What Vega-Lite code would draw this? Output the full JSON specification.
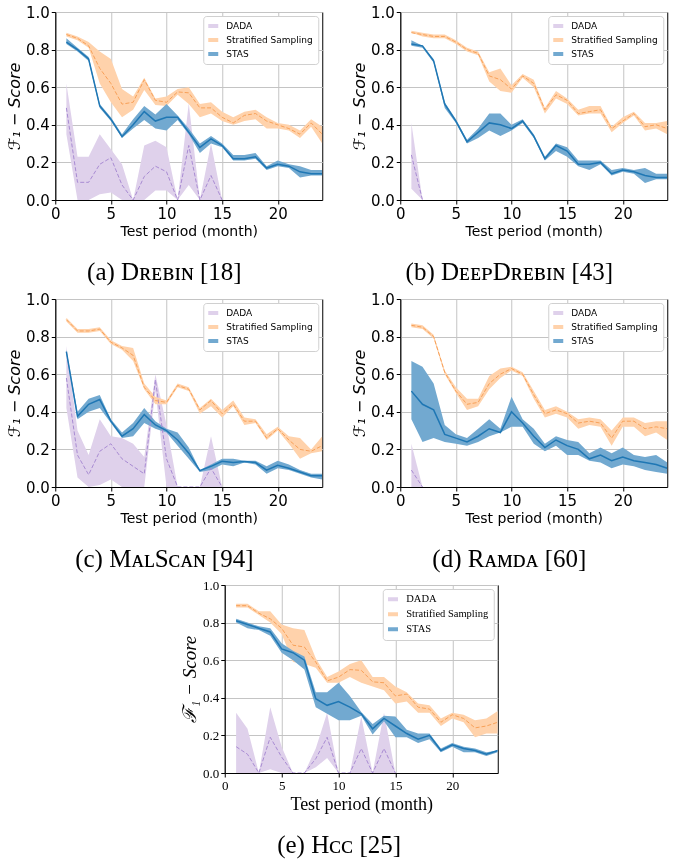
{
  "$schema": "https://vega.github.io/schema/vega-lite/v6.json",
  "padding": {"left": 5, "top": 4, "right": 5, "bottom": 0},
  "background": "white",
  "config": {
    "view": {"stroke": "#000", "strokeWidth": 1},
    "axis": {"labelFont": "DejaVu Sans", "labelFontSize": 15, "titleFont": "DejaVu Sans", "titleFontSize": 14, "titleFontWeight": "normal",
      "labelColor": "#000", "titleColor": "#000", "tickColor": "#000", "domainColor": "#000", "tickSize": 4, "labelOverlap": false, "labelFlush": false,
      "gridColor": "#c4c4c4", "gridWidth": 1, "labelPadding": 2, "titlePadding": 3},
    "axisY": {"titleFontStyle": "italic", "titleFontSize": 16},
    "legend": {"orient": "top-right", "offset": 4, "strokeColor": "#d0d0d0", "fillColor": "#ffffff", "padding": 5, "cornerRadius": 3,
      "labelFont": "DejaVu Sans", "labelFontSize": 9, "labelColor": "#000", "symbolType": "M-1,-0.4H1V0.4H-1Z", "symbolSize": 100,
      "symbolStrokeWidth": 0, "rowPadding": 4, "labelOffset": 8},
    "title": {"font": "Liberation Serif", "fontSize": 25, "fontWeight": "normal", "color": "#000"}
  },
  "data": {"values": [
    {"p":"a","s":"DADA","m":1,"v":0.49,"lo":0.35,"hi":0.62},
    {"p":"a","s":"DADA","m":2,"v":0.094,"lo":0,"hi":0.23},
    {"p":"a","s":"DADA","m":3,"v":0.094,"lo":0,"hi":0.23},
    {"p":"a","s":"DADA","m":4,"v":0.19,"lo":0.03,"hi":0.35},
    {"p":"a","s":"DADA","m":5,"v":0.225,"lo":0.04,"hi":0.27},
    {"p":"a","s":"DADA","m":6,"v":0.08,"lo":0,"hi":0.19},
    {"p":"a","s":"DADA","m":7,"v":0,"lo":0,"hi":0},
    {"p":"a","s":"DADA","m":8,"v":0.125,"lo":0,"hi":0.29},
    {"p":"a","s":"DADA","m":9,"v":0.18,"lo":0.05,"hi":0.315},
    {"p":"a","s":"DADA","m":10,"v":0.15,"lo":0.05,"hi":0.28},
    {"p":"a","s":"DADA","m":11,"v":0,"lo":0,"hi":0},
    {"p":"a","s":"DADA","m":12,"v":0.29,"lo":0.08,"hi":0.515},
    {"p":"a","s":"DADA","m":13,"v":0,"lo":0,"hi":0},
    {"p":"a","s":"DADA","m":14,"v":0.13,"lo":0,"hi":0.3},
    {"p":"a","s":"DADA","m":15,"v":0,"lo":0,"hi":0},
    {"p":"a","s":"Stratified Sampling","m":1,"v":0.88,"lo":0.87,"hi":0.89},
    {"p":"a","s":"Stratified Sampling","m":2,"v":0.86,"lo":0.85,"hi":0.87},
    {"p":"a","s":"Stratified Sampling","m":3,"v":0.82,"lo":0.81,"hi":0.84},
    {"p":"a","s":"Stratified Sampling","m":4,"v":0.7,"lo":0.62,"hi":0.79},
    {"p":"a","s":"Stratified Sampling","m":5,"v":0.62,"lo":0.52,"hi":0.75},
    {"p":"a","s":"Stratified Sampling","m":6,"v":0.51,"lo":0.44,"hi":0.59},
    {"p":"a","s":"Stratified Sampling","m":7,"v":0.52,"lo":0.48,"hi":0.55},
    {"p":"a","s":"Stratified Sampling","m":8,"v":0.64,"lo":0.585,"hi":0.65},
    {"p":"a","s":"Stratified Sampling","m":9,"v":0.53,"lo":0.505,"hi":0.54},
    {"p":"a","s":"Stratified Sampling","m":10,"v":0.52,"lo":0.5,"hi":0.55},
    {"p":"a","s":"Stratified Sampling","m":11,"v":0.575,"lo":0.56,"hi":0.59},
    {"p":"a","s":"Stratified Sampling","m":12,"v":0.57,"lo":0.51,"hi":0.6},
    {"p":"a","s":"Stratified Sampling","m":13,"v":0.49,"lo":0.44,"hi":0.51},
    {"p":"a","s":"Stratified Sampling","m":14,"v":0.49,"lo":0.46,"hi":0.52},
    {"p":"a","s":"Stratified Sampling","m":15,"v":0.44,"lo":0.42,"hi":0.47},
    {"p":"a","s":"Stratified Sampling","m":16,"v":0.41,"lo":0.4,"hi":0.44},
    {"p":"a","s":"Stratified Sampling","m":17,"v":0.45,"lo":0.42,"hi":0.47},
    {"p":"a","s":"Stratified Sampling","m":18,"v":0.46,"lo":0.43,"hi":0.48},
    {"p":"a","s":"Stratified Sampling","m":19,"v":0.42,"lo":0.38,"hi":0.44},
    {"p":"a","s":"Stratified Sampling","m":20,"v":0.4,"lo":0.38,"hi":0.41},
    {"p":"a","s":"Stratified Sampling","m":21,"v":0.38,"lo":0.37,"hi":0.4},
    {"p":"a","s":"Stratified Sampling","m":22,"v":0.35,"lo":0.33,"hi":0.37},
    {"p":"a","s":"Stratified Sampling","m":23,"v":0.41,"lo":0.39,"hi":0.43},
    {"p":"a","s":"Stratified Sampling","m":24,"v":0.35,"lo":0.3,"hi":0.39},
    {"p":"a","s":"STAS","m":1,"v":0.84,"lo":0.83,"hi":0.86},
    {"p":"a","s":"STAS","m":2,"v":0.8,"lo":0.79,"hi":0.81},
    {"p":"a","s":"STAS","m":3,"v":0.75,"lo":0.74,"hi":0.76},
    {"p":"a","s":"STAS","m":4,"v":0.5,"lo":0.49,"hi":0.51},
    {"p":"a","s":"STAS","m":5,"v":0.43,"lo":0.42,"hi":0.44},
    {"p":"a","s":"STAS","m":6,"v":0.337,"lo":0.33,"hi":0.35},
    {"p":"a","s":"STAS","m":7,"v":0.4,"lo":0.38,"hi":0.43},
    {"p":"a","s":"STAS","m":8,"v":0.47,"lo":0.425,"hi":0.5},
    {"p":"a","s":"STAS","m":9,"v":0.42,"lo":0.38,"hi":0.455},
    {"p":"a","s":"STAS","m":10,"v":0.44,"lo":0.37,"hi":0.51},
    {"p":"a","s":"STAS","m":11,"v":0.44,"lo":0.425,"hi":0.45},
    {"p":"a","s":"STAS","m":12,"v":0.36,"lo":0.35,"hi":0.38},
    {"p":"a","s":"STAS","m":13,"v":0.28,"lo":0.25,"hi":0.3},
    {"p":"a","s":"STAS","m":14,"v":0.325,"lo":0.3,"hi":0.34},
    {"p":"a","s":"STAS","m":15,"v":0.29,"lo":0.28,"hi":0.3},
    {"p":"a","s":"STAS","m":16,"v":0.22,"lo":0.21,"hi":0.24},
    {"p":"a","s":"STAS","m":17,"v":0.22,"lo":0.21,"hi":0.24},
    {"p":"a","s":"STAS","m":18,"v":0.23,"lo":0.22,"hi":0.25},
    {"p":"a","s":"STAS","m":19,"v":0.17,"lo":0.16,"hi":0.18},
    {"p":"a","s":"STAS","m":20,"v":0.19,"lo":0.18,"hi":0.21},
    {"p":"a","s":"STAS","m":21,"v":0.18,"lo":0.17,"hi":0.19},
    {"p":"a","s":"STAS","m":22,"v":0.15,"lo":0.12,"hi":0.18},
    {"p":"a","s":"STAS","m":23,"v":0.14,"lo":0.13,"hi":0.16},
    {"p":"a","s":"STAS","m":24,"v":0.14,"lo":0.13,"hi":0.16},

    {"p":"b","s":"DADA","m":1,"v":0.24,"lo":0.06,"hi":0.41},
    {"p":"b","s":"DADA","m":2,"v":0,"lo":0,"hi":0},
    {"p":"b","s":"Stratified Sampling","m":1,"v":0.89,"lo":0.89,"hi":0.9},
    {"p":"b","s":"Stratified Sampling","m":2,"v":0.88,"lo":0.87,"hi":0.89},
    {"p":"b","s":"Stratified Sampling","m":3,"v":0.87,"lo":0.86,"hi":0.88},
    {"p":"b","s":"Stratified Sampling","m":4,"v":0.87,"lo":0.86,"hi":0.88},
    {"p":"b","s":"Stratified Sampling","m":5,"v":0.84,"lo":0.83,"hi":0.85},
    {"p":"b","s":"Stratified Sampling","m":6,"v":0.8,"lo":0.79,"hi":0.81},
    {"p":"b","s":"Stratified Sampling","m":7,"v":0.78,"lo":0.77,"hi":0.79},
    {"p":"b","s":"Stratified Sampling","m":8,"v":0.66,"lo":0.63,"hi":0.68},
    {"p":"b","s":"Stratified Sampling","m":9,"v":0.64,"lo":0.58,"hi":0.7},
    {"p":"b","s":"Stratified Sampling","m":10,"v":0.59,"lo":0.57,"hi":0.61},
    {"p":"b","s":"Stratified Sampling","m":11,"v":0.66,"lo":0.65,"hi":0.67},
    {"p":"b","s":"Stratified Sampling","m":12,"v":0.62,"lo":0.6,"hi":0.64},
    {"p":"b","s":"Stratified Sampling","m":13,"v":0.48,"lo":0.46,"hi":0.49},
    {"p":"b","s":"Stratified Sampling","m":14,"v":0.56,"lo":0.54,"hi":0.58},
    {"p":"b","s":"Stratified Sampling","m":15,"v":0.53,"lo":0.51,"hi":0.54},
    {"p":"b","s":"Stratified Sampling","m":16,"v":0.46,"lo":0.45,"hi":0.48},
    {"p":"b","s":"Stratified Sampling","m":17,"v":0.47,"lo":0.46,"hi":0.5},
    {"p":"b","s":"Stratified Sampling","m":18,"v":0.48,"lo":0.46,"hi":0.5},
    {"p":"b","s":"Stratified Sampling","m":19,"v":0.38,"lo":0.36,"hi":0.39},
    {"p":"b","s":"Stratified Sampling","m":20,"v":0.42,"lo":0.41,"hi":0.44},
    {"p":"b","s":"Stratified Sampling","m":21,"v":0.46,"lo":0.45,"hi":0.47},
    {"p":"b","s":"Stratified Sampling","m":22,"v":0.39,"lo":0.37,"hi":0.41},
    {"p":"b","s":"Stratified Sampling","m":23,"v":0.4,"lo":0.38,"hi":0.41},
    {"p":"b","s":"Stratified Sampling","m":24,"v":0.38,"lo":0.35,"hi":0.42},
    {"p":"b","s":"STAS","m":1,"v":0.83,"lo":0.82,"hi":0.85},
    {"p":"b","s":"STAS","m":2,"v":0.82,"lo":0.81,"hi":0.82},
    {"p":"b","s":"STAS","m":3,"v":0.74,"lo":0.73,"hi":0.75},
    {"p":"b","s":"STAS","m":4,"v":0.51,"lo":0.49,"hi":0.52},
    {"p":"b","s":"STAS","m":5,"v":0.42,"lo":0.41,"hi":0.43},
    {"p":"b","s":"STAS","m":6,"v":0.31,"lo":0.3,"hi":0.32},
    {"p":"b","s":"STAS","m":7,"v":0.36,"lo":0.33,"hi":0.38},
    {"p":"b","s":"STAS","m":8,"v":0.41,"lo":0.37,"hi":0.46},
    {"p":"b","s":"STAS","m":9,"v":0.4,"lo":0.34,"hi":0.46},
    {"p":"b","s":"STAS","m":10,"v":0.38,"lo":0.37,"hi":0.4},
    {"p":"b","s":"STAS","m":11,"v":0.42,"lo":0.41,"hi":0.43},
    {"p":"b","s":"STAS","m":12,"v":0.34,"lo":0.33,"hi":0.35},
    {"p":"b","s":"STAS","m":13,"v":0.22,"lo":0.21,"hi":0.23},
    {"p":"b","s":"STAS","m":14,"v":0.29,"lo":0.26,"hi":0.3},
    {"p":"b","s":"STAS","m":15,"v":0.26,"lo":0.23,"hi":0.28},
    {"p":"b","s":"STAS","m":16,"v":0.19,"lo":0.18,"hi":0.21},
    {"p":"b","s":"STAS","m":17,"v":0.19,"lo":0.16,"hi":0.21},
    {"p":"b","s":"STAS","m":18,"v":0.2,"lo":0.19,"hi":0.21},
    {"p":"b","s":"STAS","m":19,"v":0.14,"lo":0.13,"hi":0.16},
    {"p":"b","s":"STAS","m":20,"v":0.16,"lo":0.15,"hi":0.17},
    {"p":"b","s":"STAS","m":21,"v":0.15,"lo":0.14,"hi":0.16},
    {"p":"b","s":"STAS","m":22,"v":0.13,"lo":0.09,"hi":0.17},
    {"p":"b","s":"STAS","m":23,"v":0.12,"lo":0.11,"hi":0.14},
    {"p":"b","s":"STAS","m":24,"v":0.12,"lo":0.11,"hi":0.14},

    {"p":"c","s":"DADA","m":1,"v":0.58,"lo":0.42,"hi":0.75},
    {"p":"c","s":"DADA","m":2,"v":0.17,"lo":0.05,"hi":0.3},
    {"p":"c","s":"DADA","m":3,"v":0.065,"lo":0,"hi":0.17},
    {"p":"c","s":"DADA","m":4,"v":0.19,"lo":0.01,"hi":0.36},
    {"p":"c","s":"DADA","m":5,"v":0.23,"lo":0.04,"hi":0.27},
    {"p":"c","s":"DADA","m":6,"v":0.15,"lo":0,"hi":0.26},
    {"p":"c","s":"DADA","m":7,"v":0.11,"lo":0,"hi":0.23},
    {"p":"c","s":"DADA","m":8,"v":0.07,"lo":0,"hi":0.16},
    {"p":"c","s":"DADA","m":9,"v":0.57,"lo":0.51,"hi":0.6},
    {"p":"c","s":"DADA","m":10,"v":0.15,"lo":0,"hi":0.33},
    {"p":"c","s":"DADA","m":11,"v":0,"lo":0,"hi":0},
    {"p":"c","s":"DADA","m":12,"v":0,"lo":0,"hi":0},
    {"p":"c","s":"DADA","m":13,"v":0,"lo":0,"hi":0},
    {"p":"c","s":"DADA","m":14,"v":0.1,"lo":0,"hi":0.27},
    {"p":"c","s":"DADA","m":15,"v":0,"lo":0,"hi":0},
    {"p":"c","s":"Stratified Sampling","m":1,"v":0.89,"lo":0.88,"hi":0.9},
    {"p":"c","s":"Stratified Sampling","m":2,"v":0.83,"lo":0.82,"hi":0.84},
    {"p":"c","s":"Stratified Sampling","m":3,"v":0.83,"lo":0.82,"hi":0.84},
    {"p":"c","s":"Stratified Sampling","m":4,"v":0.84,"lo":0.83,"hi":0.85},
    {"p":"c","s":"Stratified Sampling","m":5,"v":0.77,"lo":0.76,"hi":0.78},
    {"p":"c","s":"Stratified Sampling","m":6,"v":0.74,"lo":0.73,"hi":0.75},
    {"p":"c","s":"Stratified Sampling","m":7,"v":0.7,"lo":0.67,"hi":0.74},
    {"p":"c","s":"Stratified Sampling","m":8,"v":0.53,"lo":0.52,"hi":0.55},
    {"p":"c","s":"Stratified Sampling","m":9,"v":0.46,"lo":0.44,"hi":0.48},
    {"p":"c","s":"Stratified Sampling","m":10,"v":0.45,"lo":0.44,"hi":0.46},
    {"p":"c","s":"Stratified Sampling","m":11,"v":0.54,"lo":0.53,"hi":0.55},
    {"p":"c","s":"Stratified Sampling","m":12,"v":0.52,"lo":0.51,"hi":0.53},
    {"p":"c","s":"Stratified Sampling","m":13,"v":0.41,"lo":0.39,"hi":0.42},
    {"p":"c","s":"Stratified Sampling","m":14,"v":0.46,"lo":0.43,"hi":0.47},
    {"p":"c","s":"Stratified Sampling","m":15,"v":0.39,"lo":0.37,"hi":0.41},
    {"p":"c","s":"Stratified Sampling","m":16,"v":0.44,"lo":0.43,"hi":0.46},
    {"p":"c","s":"Stratified Sampling","m":17,"v":0.35,"lo":0.33,"hi":0.37},
    {"p":"c","s":"Stratified Sampling","m":18,"v":0.35,"lo":0.34,"hi":0.36},
    {"p":"c","s":"Stratified Sampling","m":19,"v":0.26,"lo":0.25,"hi":0.28},
    {"p":"c","s":"Stratified Sampling","m":20,"v":0.31,"lo":0.3,"hi":0.32},
    {"p":"c","s":"Stratified Sampling","m":21,"v":0.25,"lo":0.23,"hi":0.27},
    {"p":"c","s":"Stratified Sampling","m":22,"v":0.2,"lo":0.15,"hi":0.26},
    {"p":"c","s":"Stratified Sampling","m":23,"v":0.19,"lo":0.18,"hi":0.2},
    {"p":"c","s":"Stratified Sampling","m":24,"v":0.22,"lo":0.19,"hi":0.27},
    {"p":"c","s":"STAS","m":1,"v":0.72,"lo":0.71,"hi":0.73},
    {"p":"c","s":"STAS","m":2,"v":0.376,"lo":0.36,"hi":0.4},
    {"p":"c","s":"STAS","m":3,"v":0.44,"lo":0.4,"hi":0.47},
    {"p":"c","s":"STAS","m":4,"v":0.465,"lo":0.42,"hi":0.49},
    {"p":"c","s":"STAS","m":5,"v":0.35,"lo":0.34,"hi":0.36},
    {"p":"c","s":"STAS","m":6,"v":0.27,"lo":0.26,"hi":0.29},
    {"p":"c","s":"STAS","m":7,"v":0.31,"lo":0.27,"hi":0.34},
    {"p":"c","s":"STAS","m":8,"v":0.385,"lo":0.34,"hi":0.42},
    {"p":"c","s":"STAS","m":9,"v":0.33,"lo":0.31,"hi":0.35},
    {"p":"c","s":"STAS","m":10,"v":0.3,"lo":0.29,"hi":0.31},
    {"p":"c","s":"STAS","m":11,"v":0.25,"lo":0.22,"hi":0.29},
    {"p":"c","s":"STAS","m":12,"v":0.18,"lo":0.15,"hi":0.21},
    {"p":"c","s":"STAS","m":13,"v":0.087,"lo":0.08,"hi":0.09},
    {"p":"c","s":"STAS","m":14,"v":0.11,"lo":0.09,"hi":0.12},
    {"p":"c","s":"STAS","m":15,"v":0.137,"lo":0.12,"hi":0.15},
    {"p":"c","s":"STAS","m":16,"v":0.13,"lo":0.11,"hi":0.15},
    {"p":"c","s":"STAS","m":17,"v":0.135,"lo":0.13,"hi":0.14},
    {"p":"c","s":"STAS","m":18,"v":0.13,"lo":0.12,"hi":0.14},
    {"p":"c","s":"STAS","m":19,"v":0.09,"lo":0.07,"hi":0.11},
    {"p":"c","s":"STAS","m":20,"v":0.115,"lo":0.1,"hi":0.14},
    {"p":"c","s":"STAS","m":21,"v":0.1,"lo":0.09,"hi":0.12},
    {"p":"c","s":"STAS","m":22,"v":0.08,"lo":0.07,"hi":0.09},
    {"p":"c","s":"STAS","m":23,"v":0.06,"lo":0.05,"hi":0.07},
    {"p":"c","s":"STAS","m":24,"v":0.06,"lo":0.04,"hi":0.07},

    {"p":"d","s":"DADA","m":1,"v":0.09,"lo":0,"hi":0.23},
    {"p":"d","s":"DADA","m":2,"v":0,"lo":0,"hi":0},
    {"p":"d","s":"Stratified Sampling","m":1,"v":0.86,"lo":0.85,"hi":0.87},
    {"p":"d","s":"Stratified Sampling","m":2,"v":0.85,"lo":0.84,"hi":0.86},
    {"p":"d","s":"Stratified Sampling","m":3,"v":0.8,"lo":0.79,"hi":0.81},
    {"p":"d","s":"Stratified Sampling","m":4,"v":0.61,"lo":0.6,"hi":0.62},
    {"p":"d","s":"Stratified Sampling","m":5,"v":0.51,"lo":0.5,"hi":0.53},
    {"p":"d","s":"Stratified Sampling","m":6,"v":0.44,"lo":0.41,"hi":0.47},
    {"p":"d","s":"Stratified Sampling","m":7,"v":0.45,"lo":0.43,"hi":0.47},
    {"p":"d","s":"Stratified Sampling","m":8,"v":0.55,"lo":0.52,"hi":0.59},
    {"p":"d","s":"Stratified Sampling","m":9,"v":0.6,"lo":0.58,"hi":0.63},
    {"p":"d","s":"Stratified Sampling","m":10,"v":0.63,"lo":0.62,"hi":0.64},
    {"p":"d","s":"Stratified Sampling","m":11,"v":0.6,"lo":0.59,"hi":0.61},
    {"p":"d","s":"Stratified Sampling","m":12,"v":0.49,"lo":0.47,"hi":0.51},
    {"p":"d","s":"Stratified Sampling","m":13,"v":0.39,"lo":0.37,"hi":0.41},
    {"p":"d","s":"Stratified Sampling","m":14,"v":0.41,"lo":0.39,"hi":0.43},
    {"p":"d","s":"Stratified Sampling","m":15,"v":0.39,"lo":0.37,"hi":0.4},
    {"p":"d","s":"Stratified Sampling","m":16,"v":0.34,"lo":0.31,"hi":0.36},
    {"p":"d","s":"Stratified Sampling","m":17,"v":0.35,"lo":0.33,"hi":0.37},
    {"p":"d","s":"Stratified Sampling","m":18,"v":0.34,"lo":0.32,"hi":0.36},
    {"p":"d","s":"Stratified Sampling","m":19,"v":0.26,"lo":0.22,"hi":0.3},
    {"p":"d","s":"Stratified Sampling","m":20,"v":0.35,"lo":0.32,"hi":0.37},
    {"p":"d","s":"Stratified Sampling","m":21,"v":0.35,"lo":0.32,"hi":0.37},
    {"p":"d","s":"Stratified Sampling","m":22,"v":0.31,"lo":0.27,"hi":0.34},
    {"p":"d","s":"Stratified Sampling","m":23,"v":0.32,"lo":0.29,"hi":0.35},
    {"p":"d","s":"Stratified Sampling","m":24,"v":0.31,"lo":0.25,"hi":0.35},
    {"p":"d","s":"STAS","m":1,"v":0.51,"lo":0.36,"hi":0.67},
    {"p":"d","s":"STAS","m":2,"v":0.44,"lo":0.24,"hi":0.64},
    {"p":"d","s":"STAS","m":3,"v":0.41,"lo":0.26,"hi":0.55},
    {"p":"d","s":"STAS","m":4,"v":0.28,"lo":0.24,"hi":0.33},
    {"p":"d","s":"STAS","m":5,"v":0.26,"lo":0.23,"hi":0.28},
    {"p":"d","s":"STAS","m":6,"v":0.24,"lo":0.22,"hi":0.26},
    {"p":"d","s":"STAS","m":7,"v":0.27,"lo":0.24,"hi":0.31},
    {"p":"d","s":"STAS","m":8,"v":0.31,"lo":0.27,"hi":0.36},
    {"p":"d","s":"STAS","m":9,"v":0.29,"lo":0.29,"hi":0.31},
    {"p":"d","s":"STAS","m":10,"v":0.4,"lo":0.32,"hi":0.48},
    {"p":"d","s":"STAS","m":11,"v":0.34,"lo":0.32,"hi":0.36},
    {"p":"d","s":"STAS","m":12,"v":0.27,"lo":0.23,"hi":0.31},
    {"p":"d","s":"STAS","m":13,"v":0.21,"lo":0.19,"hi":0.23},
    {"p":"d","s":"STAS","m":14,"v":0.25,"lo":0.22,"hi":0.27},
    {"p":"d","s":"STAS","m":15,"v":0.22,"lo":0.17,"hi":0.25},
    {"p":"d","s":"STAS","m":16,"v":0.2,"lo":0.17,"hi":0.24},
    {"p":"d","s":"STAS","m":17,"v":0.15,"lo":0.14,"hi":0.18},
    {"p":"d","s":"STAS","m":18,"v":0.17,"lo":0.13,"hi":0.21},
    {"p":"d","s":"STAS","m":19,"v":0.14,"lo":0.1,"hi":0.18},
    {"p":"d","s":"STAS","m":20,"v":0.16,"lo":0.12,"hi":0.21},
    {"p":"d","s":"STAS","m":21,"v":0.14,"lo":0.11,"hi":0.17},
    {"p":"d","s":"STAS","m":22,"v":0.13,"lo":0.09,"hi":0.16},
    {"p":"d","s":"STAS","m":23,"v":0.12,"lo":0.08,"hi":0.17},
    {"p":"d","s":"STAS","m":24,"v":0.1,"lo":0.07,"hi":0.13},

    {"p":"e","s":"DADA","m":1,"v":0.14,"lo":0,"hi":0.32},
    {"p":"e","s":"DADA","m":2,"v":0.1,"lo":0,"hi":0.235},
    {"p":"e","s":"DADA","m":3,"v":0,"lo":0,"hi":0},
    {"p":"e","s":"DADA","m":4,"v":0.19,"lo":0.02,"hi":0.35},
    {"p":"e","s":"DADA","m":5,"v":0.085,"lo":0,"hi":0.14},
    {"p":"e","s":"DADA","m":6,"v":0,"lo":0,"hi":0},
    {"p":"e","s":"DADA","m":7,"v":0,"lo":0,"hi":0},
    {"p":"e","s":"DADA","m":8,"v":0.076,"lo":0.03,"hi":0.13},
    {"p":"e","s":"DADA","m":9,"v":0.19,"lo":0.08,"hi":0.32},
    {"p":"e","s":"DADA","m":10,"v":0,"lo":0,"hi":0},
    {"p":"e","s":"DADA","m":11,"v":0,"lo":0,"hi":0},
    {"p":"e","s":"DADA","m":12,"v":0.13,"lo":0,"hi":0.3},
    {"p":"e","s":"DADA","m":13,"v":0,"lo":0,"hi":0},
    {"p":"e","s":"DADA","m":14,"v":0.13,"lo":0,"hi":0.32},
    {"p":"e","s":"DADA","m":15,"v":0,"lo":0,"hi":0},
    {"p":"e","s":"Stratified Sampling","m":1,"v":0.89,"lo":0.88,"hi":0.9},
    {"p":"e","s":"Stratified Sampling","m":2,"v":0.89,"lo":0.88,"hi":0.9},
    {"p":"e","s":"Stratified Sampling","m":3,"v":0.85,"lo":0.84,"hi":0.86},
    {"p":"e","s":"Stratified Sampling","m":4,"v":0.82,"lo":0.8,"hi":0.86},
    {"p":"e","s":"Stratified Sampling","m":5,"v":0.77,"lo":0.74,"hi":0.79},
    {"p":"e","s":"Stratified Sampling","m":6,"v":0.68,"lo":0.59,"hi":0.77},
    {"p":"e","s":"Stratified Sampling","m":7,"v":0.67,"lo":0.58,"hi":0.76},
    {"p":"e","s":"Stratified Sampling","m":8,"v":0.59,"lo":0.56,"hi":0.61},
    {"p":"e","s":"Stratified Sampling","m":9,"v":0.49,"lo":0.48,"hi":0.51},
    {"p":"e","s":"Stratified Sampling","m":10,"v":0.51,"lo":0.48,"hi":0.54},
    {"p":"e","s":"Stratified Sampling","m":11,"v":0.55,"lo":0.51,"hi":0.58},
    {"p":"e","s":"Stratified Sampling","m":12,"v":0.546,"lo":0.48,"hi":0.6},
    {"p":"e","s":"Stratified Sampling","m":13,"v":0.485,"lo":0.46,"hi":0.51},
    {"p":"e","s":"Stratified Sampling","m":14,"v":0.48,"lo":0.44,"hi":0.51},
    {"p":"e","s":"Stratified Sampling","m":15,"v":0.41,"lo":0.37,"hi":0.46},
    {"p":"e","s":"Stratified Sampling","m":16,"v":0.42,"lo":0.38,"hi":0.43},
    {"p":"e","s":"Stratified Sampling","m":17,"v":0.35,"lo":0.32,"hi":0.37},
    {"p":"e","s":"Stratified Sampling","m":18,"v":0.34,"lo":0.32,"hi":0.36},
    {"p":"e","s":"Stratified Sampling","m":19,"v":0.27,"lo":0.25,"hi":0.29},
    {"p":"e","s":"Stratified Sampling","m":20,"v":0.31,"lo":0.29,"hi":0.32},
    {"p":"e","s":"Stratified Sampling","m":21,"v":0.29,"lo":0.27,"hi":0.31},
    {"p":"e","s":"Stratified Sampling","m":22,"v":0.24,"lo":0.19,"hi":0.28},
    {"p":"e","s":"Stratified Sampling","m":23,"v":0.25,"lo":0.21,"hi":0.29},
    {"p":"e","s":"Stratified Sampling","m":24,"v":0.27,"lo":0.21,"hi":0.33},
    {"p":"e","s":"STAS","m":1,"v":0.81,"lo":0.8,"hi":0.82},
    {"p":"e","s":"STAS","m":2,"v":0.79,"lo":0.77,"hi":0.8},
    {"p":"e","s":"STAS","m":3,"v":0.77,"lo":0.76,"hi":0.78},
    {"p":"e","s":"STAS","m":4,"v":0.75,"lo":0.73,"hi":0.77},
    {"p":"e","s":"STAS","m":5,"v":0.66,"lo":0.64,"hi":0.69},
    {"p":"e","s":"STAS","m":6,"v":0.64,"lo":0.6,"hi":0.65},
    {"p":"e","s":"STAS","m":7,"v":0.6,"lo":0.55,"hi":0.62},
    {"p":"e","s":"STAS","m":8,"v":0.395,"lo":0.35,"hi":0.43},
    {"p":"e","s":"STAS","m":9,"v":0.36,"lo":0.315,"hi":0.43},
    {"p":"e","s":"STAS","m":10,"v":0.38,"lo":0.28,"hi":0.48},
    {"p":"e","s":"STAS","m":11,"v":0.35,"lo":0.28,"hi":0.41},
    {"p":"e","s":"STAS","m":12,"v":0.315,"lo":0.305,"hi":0.325},
    {"p":"e","s":"STAS","m":13,"v":0.235,"lo":0.205,"hi":0.26},
    {"p":"e","s":"STAS","m":14,"v":0.29,"lo":0.275,"hi":0.305},
    {"p":"e","s":"STAS","m":15,"v":0.25,"lo":0.19,"hi":0.3},
    {"p":"e","s":"STAS","m":16,"v":0.21,"lo":0.19,"hi":0.23},
    {"p":"e","s":"STAS","m":17,"v":0.18,"lo":0.16,"hi":0.21},
    {"p":"e","s":"STAS","m":18,"v":0.2,"lo":0.18,"hi":0.21},
    {"p":"e","s":"STAS","m":19,"v":0.12,"lo":0.11,"hi":0.13},
    {"p":"e","s":"STAS","m":20,"v":0.15,"lo":0.14,"hi":0.16},
    {"p":"e","s":"STAS","m":21,"v":0.13,"lo":0.11,"hi":0.14},
    {"p":"e","s":"STAS","m":22,"v":0.12,"lo":0.11,"hi":0.13},
    {"p":"e","s":"STAS","m":23,"v":0.1,"lo":0.09,"hi":0.11},
    {"p":"e","s":"STAS","m":24,"v":0.12,"lo":0.11,"hi":0.12}
  ]},
  "resolve": {"scale": {"fill": "independent"}},
  "spacing": 5,
  "center": true,
  "vconcat": [
    {
      "hconcat": [
        {
          "width": 267, "height": 188,
          "title": {"text": "(a) Dʀᴇʙɪɴ [18]", "orient": "bottom", "frame": "bounds", "offset": 22},
          "transform": [{"filter": "datum.p === 'a'"}],
          "encoding": {
            "x": {"field": "m", "type": "quantitative", "scale": {"domain": [0, 24], "nice": false}, "axis": {"values": [0, 5, 10, 15, 20], "title": "Test period (month)"}},
            "y": {"field": "v", "type": "quantitative", "scale": {"domain": [0, 1], "nice": false}, "axis": {"values": [0, 0.2, 0.4, 0.6, 0.8, 1], "format": ".1f", "title": "ℱ₁ − Score"}}
          },
          "layer": [
            {"mark": {"type": "area", "clip": true, "blend": "multiply"},
             "encoding": {
               "y": {"field": "lo", "type": "quantitative", "scale": {"domain": [0, 1], "nice": false}, "axis": {"values": [0, 0.2, 0.4, 0.6, 0.8, 1], "format": ".1f", "title": "ℱ₁ − Score"}},
               "y2": {"field": "hi"},
               "fill": {"field": "s", "type": "nominal", "title": null, "legend": {"orient": "top-right"}, "scale": {"domain": ["DADA", "Stratified Sampling", "STAS"], "range": ["#dfd1eb", "#ffd2ab", "#72a9d0"]}}}},
            {"transform": [{"filter": "datum.s === 'DADA'"}], "mark": {"type": "line", "clip": true, "stroke": "#a88bd2", "strokeDash": [4, 2], "strokeWidth": 1}, "encoding": {}},
            {"transform": [{"filter": "datum.s === 'Stratified Sampling'"}], "mark": {"type": "line", "clip": true, "stroke": "#f7a058", "strokeDash": [4, 2], "strokeWidth": 1}, "encoding": {}},
            {"transform": [{"filter": "datum.s === 'STAS'"}], "mark": {"type": "line", "clip": true, "stroke": "#1f77b4", "strokeWidth": 1.5}, "encoding": {}}
          ]
        },
        {
          "width": 267, "height": 188,
          "title": {"text": "(b) DᴇᴇᴘDʀᴇʙɪɴ [43]", "orient": "bottom", "frame": "bounds", "offset": 22},
          "transform": [{"filter": "datum.p === 'b'"}],
          "encoding": {
            "x": {"field": "m", "type": "quantitative", "scale": {"domain": [0, 24], "nice": false}, "axis": {"values": [0, 5, 10, 15, 20], "title": "Test period (month)"}},
            "y": {"field": "v", "type": "quantitative", "scale": {"domain": [0, 1], "nice": false}, "axis": {"values": [0, 0.2, 0.4, 0.6, 0.8, 1], "format": ".1f", "title": "ℱ₁ − Score"}}
          },
          "layer": [
            {"mark": {"type": "area", "clip": true, "blend": "multiply"},
             "encoding": {
               "y": {"field": "lo", "type": "quantitative", "scale": {"domain": [0, 1], "nice": false}, "axis": {"values": [0, 0.2, 0.4, 0.6, 0.8, 1], "format": ".1f", "title": "ℱ₁ − Score"}},
               "y2": {"field": "hi"},
               "fill": {"field": "s", "type": "nominal", "title": null, "legend": {"orient": "top-right"}, "scale": {"domain": ["DADA", "Stratified Sampling", "STAS"], "range": ["#dfd1eb", "#ffd2ab", "#72a9d0"]}}}},
            {"transform": [{"filter": "datum.s === 'DADA'"}], "mark": {"type": "line", "clip": true, "stroke": "#a88bd2", "strokeDash": [4, 2], "strokeWidth": 1}, "encoding": {}},
            {"transform": [{"filter": "datum.s === 'Stratified Sampling'"}], "mark": {"type": "line", "clip": true, "stroke": "#f7a058", "strokeDash": [4, 2], "strokeWidth": 1}, "encoding": {}},
            {"transform": [{"filter": "datum.s === 'STAS'"}], "mark": {"type": "line", "clip": true, "stroke": "#1f77b4", "strokeWidth": 1.5}, "encoding": {}}
          ]
        }
      ],
      "spacing": 27,
      "resolve": {"scale": {"fill": "independent"}}
    },
    {
      "hconcat": [
        {
          "width": 267, "height": 188,
          "title": {"text": "(c) MᴀʟSᴄᴀɴ [94]", "orient": "bottom", "frame": "bounds", "offset": 22},
          "transform": [{"filter": "datum.p === 'c'"}],
          "encoding": {
            "x": {"field": "m", "type": "quantitative", "scale": {"domain": [0, 24], "nice": false}, "axis": {"values": [0, 5, 10, 15, 20], "title": "Test period (month)"}},
            "y": {"field": "v", "type": "quantitative", "scale": {"domain": [0, 1], "nice": false}, "axis": {"values": [0, 0.2, 0.4, 0.6, 0.8, 1], "format": ".1f", "title": "ℱ₁ − Score"}}
          },
          "layer": [
            {"mark": {"type": "area", "clip": true, "blend": "multiply"},
             "encoding": {
               "y": {"field": "lo", "type": "quantitative", "scale": {"domain": [0, 1], "nice": false}, "axis": {"values": [0, 0.2, 0.4, 0.6, 0.8, 1], "format": ".1f", "title": "ℱ₁ − Score"}},
               "y2": {"field": "hi"},
               "fill": {"field": "s", "type": "nominal", "title": null, "legend": {"orient": "top-right"}, "scale": {"domain": ["DADA", "Stratified Sampling", "STAS"], "range": ["#dfd1eb", "#ffd2ab", "#72a9d0"]}}}},
            {"transform": [{"filter": "datum.s === 'DADA'"}], "mark": {"type": "line", "clip": true, "stroke": "#a88bd2", "strokeDash": [4, 2], "strokeWidth": 1}, "encoding": {}},
            {"transform": [{"filter": "datum.s === 'Stratified Sampling'"}], "mark": {"type": "line", "clip": true, "stroke": "#f7a058", "strokeDash": [4, 2], "strokeWidth": 1}, "encoding": {}},
            {"transform": [{"filter": "datum.s === 'STAS'"}], "mark": {"type": "line", "clip": true, "stroke": "#1f77b4", "strokeWidth": 1.5}, "encoding": {}}
          ]
        },
        {
          "width": 267, "height": 188,
          "title": {"text": "(d) Rᴀᴍᴅᴀ [60]", "orient": "bottom", "frame": "bounds", "offset": 22},
          "transform": [{"filter": "datum.p === 'd'"}],
          "encoding": {
            "x": {"field": "m", "type": "quantitative", "scale": {"domain": [0, 24], "nice": false}, "axis": {"values": [0, 5, 10, 15, 20], "title": "Test period (month)"}},
            "y": {"field": "v", "type": "quantitative", "scale": {"domain": [0, 1], "nice": false}, "axis": {"values": [0, 0.2, 0.4, 0.6, 0.8, 1], "format": ".1f", "title": "ℱ₁ − Score"}}
          },
          "layer": [
            {"mark": {"type": "area", "clip": true, "blend": "multiply"},
             "encoding": {
               "y": {"field": "lo", "type": "quantitative", "scale": {"domain": [0, 1], "nice": false}, "axis": {"values": [0, 0.2, 0.4, 0.6, 0.8, 1], "format": ".1f", "title": "ℱ₁ − Score"}},
               "y2": {"field": "hi"},
               "fill": {"field": "s", "type": "nominal", "title": null, "legend": {"orient": "top-right"}, "scale": {"domain": ["DADA", "Stratified Sampling", "STAS"], "range": ["#dfd1eb", "#ffd2ab", "#72a9d0"]}}}},
            {"transform": [{"filter": "datum.s === 'DADA'"}], "mark": {"type": "line", "clip": true, "stroke": "#a88bd2", "strokeDash": [4, 2], "strokeWidth": 1}, "encoding": {}},
            {"transform": [{"filter": "datum.s === 'Stratified Sampling'"}], "mark": {"type": "line", "clip": true, "stroke": "#f7a058", "strokeDash": [4, 2], "strokeWidth": 1}, "encoding": {}},
            {"transform": [{"filter": "datum.s === 'STAS'"}], "mark": {"type": "line", "clip": true, "stroke": "#1f77b4", "strokeWidth": 1.5}, "encoding": {}}
          ]
        }
      ],
      "spacing": 27,
      "resolve": {"scale": {"fill": "independent"}}
    },
    {
      "width": 273, "height": 188,
      "title": {"text": "(e) Hᴄᴄ [25]", "orient": "bottom", "frame": "bounds", "offset": 20},
      "transform": [{"filter": "datum.p === 'e'"}],
      "encoding": {
        "x": {"field": "m", "type": "quantitative", "scale": {"domain": [0, 24], "nice": false},
          "axis": {"values": [0, 5, 10, 15, 20], "title": "Test period (month)", "labelFont": "Liberation Serif", "labelFontSize": 13, "titleFont": "Liberation Serif", "titleFontSize": 18}},
        "y": {"field": "v", "type": "quantitative", "scale": {"domain": [0, 1], "nice": false},
          "axis": {"values": [0, 0.2, 0.4, 0.6, 0.8, 1], "format": ".1f", "title": "ℱ₁ − Score", "labelFont": "Liberation Serif", "labelFontSize": 13, "titleFont": "Liberation Serif", "titleFontSize": 19}}
      },
      "layer": [
        {"mark": {"type": "area", "clip": true, "blend": "multiply"},
         "encoding": {
           "y": {"field": "lo", "type": "quantitative", "scale": {"domain": [0, 1], "nice": false},
             "axis": {"values": [0, 0.2, 0.4, 0.6, 0.8, 1], "format": ".1f", "title": "ℱ₁ − Score", "labelFont": "Liberation Serif", "labelFontSize": 13, "titleFont": "Liberation Serif", "titleFontSize": 19}},
           "y2": {"field": "hi"},
           "fill": {"field": "s", "type": "nominal", "title": null, "legend": {"orient": "top-right", "labelFont": "Liberation Serif", "labelFontSize": 10.5}, "scale": {"domain": ["DADA", "Stratified Sampling", "STAS"], "range": ["#dfd1eb", "#ffd2ab", "#72a9d0"]}}}},
        {"transform": [{"filter": "datum.s === 'DADA'"}], "mark": {"type": "line", "clip": true, "stroke": "#a88bd2", "strokeDash": [4, 2], "strokeWidth": 1}, "encoding": {}},
        {"transform": [{"filter": "datum.s === 'Stratified Sampling'"}], "mark": {"type": "line", "clip": true, "stroke": "#f7a058", "strokeDash": [4, 2], "strokeWidth": 1}, "encoding": {}},
        {"transform": [{"filter": "datum.s === 'STAS'"}], "mark": {"type": "line", "clip": true, "stroke": "#1f77b4", "strokeWidth": 1.5}, "encoding": {}}
      ]
    }
  ]
}
